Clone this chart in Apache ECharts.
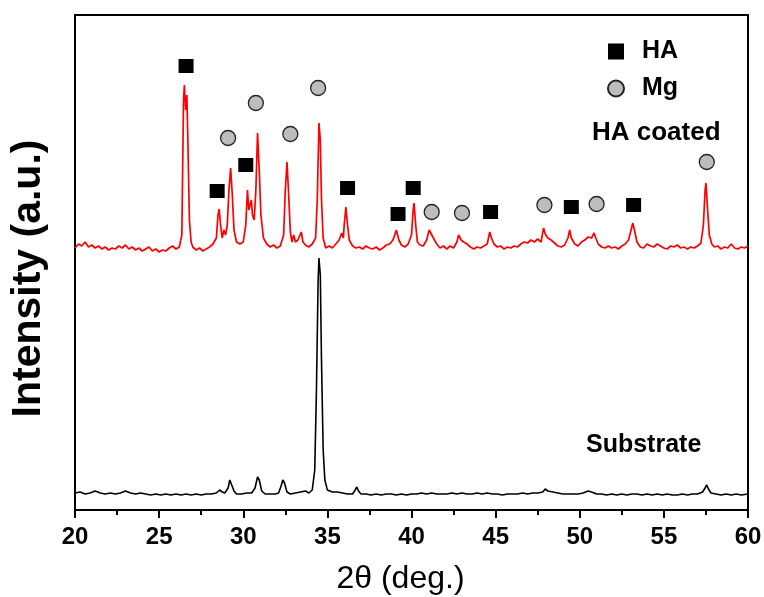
<!DOCTYPE html>
<html>
<head>
<meta charset="utf-8">
<script src="https://cdn.jsdelivr.net/npm/echarts@6/dist/echarts.min.js"></script>
<style>
html,body{margin:0;padding:0;background:#fff;}
#chart{width:764px;height:597px;}
</style>
</head>
<body>
<div id="chart"></div>
<script>
// 2θ (deg.) vs intensity (a.u., offset traces)
const coatedPattern = [
[20.0,262],[20.2,266],[20.4,264],[20.6,268],[20.8,263],[21.0,265],[21.2,262],[21.4,264],[21.6,261],[21.8,263],
[22.0,260],[22.2,262],[22.4,261],[22.6,264],[22.8,262],[23.0,265],[23.2,261],[23.4,263],[23.6,260],[23.8,262],
[24.0,259],[24.2,261],[24.4,263],[24.6,259],[24.8,261],[25.0,258],[25.2,260],[25.4,259],[25.6,262],[25.8,264],
[26.0,261],[26.2,263],[26.35,275],[26.45,410],[26.5,425],[26.58,400],[26.65,415],[26.72,360],[26.8,290],[26.9,268],
[27.0,263],[27.2,260],[27.4,262],[27.6,259],[27.8,261],[28.0,263],[28.2,266],[28.4,272],[28.5,295],[28.57,301],
[28.65,285],[28.75,272],[28.85,280],[28.95,275],[29.05,285],[29.15,320],[29.25,342],[29.35,315],[29.45,280],[29.6,268],
[29.8,266],[30.0,268],[30.15,285],[30.25,320],[30.33,300],[30.4,298],[30.48,310],[30.55,295],[30.65,290],[30.75,320],
[30.85,377],[30.95,340],[31.05,295],[31.2,272],[31.4,266],[31.6,263],[31.8,265],[32.0,262],[32.2,264],[32.4,275],
[32.5,320],[32.6,348],[32.7,315],[32.8,278],[32.9,268],[33.0,275],[33.1,268],[33.25,270],[33.45,278],[33.55,268],
[33.7,265],[33.9,263],[34.1,266],[34.3,272],[34.4,310],[34.5,387],[34.58,370],[34.65,310],[34.75,272],[34.9,262],
[35.1,264],[35.3,262],[35.5,266],[35.7,270],[35.85,277],[35.95,272],[36.0,285],[36.1,303],[36.2,285],[36.3,270],
[36.5,264],[36.7,262],[36.9,263],[37.1,261],[37.3,264],[37.5,262],[37.7,261],[37.9,263],[38.1,260],[38.3,262],
[38.5,265],[38.7,266],[38.9,270],[39.1,280],[39.25,270],[39.4,265],[39.6,263],[39.8,266],[40.0,275],[40.1,300],
[40.15,307],[40.25,285],[40.35,268],[40.5,265],[40.7,264],[40.9,270],[41.05,280],[41.15,282],[41.3,272],[41.5,266],
[41.7,262],[41.9,264],[42.1,261],[42.3,264],[42.5,262],[42.7,268],[42.8,275],[42.95,270],[43.1,268],[43.3,266],
[43.5,263],[43.7,261],[43.9,263],[44.1,262],[44.3,264],[44.5,266],[44.65,278],[44.75,272],[44.9,266],[45.1,263],
[45.3,264],[45.5,261],[45.7,263],[45.9,262],[46.1,264],[46.3,263],[46.5,266],[46.7,268],[46.9,267],[47.1,270],
[47.3,268],[47.5,271],[47.7,268],[47.85,282],[47.95,276],[48.1,272],[48.3,270],[48.5,267],[48.7,264],[48.9,263],
[49.1,265],[49.3,272],[49.4,280],[49.5,272],[49.7,266],[49.9,264],[50.1,268],[50.3,270],[50.5,273],[50.7,272],
[50.85,277],[50.95,272],[51.1,266],[51.3,263],[51.5,262],[51.7,264],[51.9,262],[52.1,263],[52.3,261],[52.5,264],
[52.7,266],[52.9,270],[53.05,280],[53.15,287],[53.25,280],[53.4,268],[53.6,263],[53.8,262],[54.0,266],[54.2,264],
[54.4,263],[54.6,266],[54.8,264],[55.0,262],[55.2,261],[55.4,264],[55.6,263],[55.8,265],[56.0,262],[56.2,263],
[56.4,261],[56.6,263],[56.8,262],[57.0,264],[57.2,267],[57.35,285],[57.45,320],[57.5,327],[57.6,300],[57.7,275],
[57.85,266],[58.0,263],[58.2,264],[58.4,261],[58.6,263],[58.8,262],[59.0,266],[59.2,262],[59.4,261],[59.6,263],
[59.8,262],[60.0,264]
];
const substratePattern = [
[20.0,17],[20.3,18],[20.6,16],[20.9,17],[21.2,19],[21.5,17],[21.8,16],[22.1,17],[22.4,16],[22.7,17],
[23.0,19],[23.3,17],[23.6,16],[23.9,17],[24.2,16],[24.5,15],[24.8,16],[25.1,15],[25.4,16],[25.7,15],
[26.0,16],[26.3,15],[26.6,16],[26.9,15],[27.2,16],[27.5,15],[27.8,16],[28.1,16],[28.4,17],[28.6,20],
[28.75,18],[28.9,17],[29.1,22],[29.2,30],[29.3,28],[29.45,19],[29.6,16],[29.9,16],[30.2,17],[30.5,17],
[30.7,22],[30.85,33],[30.95,30],[31.1,19],[31.3,16],[31.6,16],[31.9,16],[32.1,17],[32.25,24],[32.35,30],
[32.45,27],[32.6,18],[32.8,16],[33.1,17],[33.4,18],[33.7,19],[33.9,17],[34.1,20],[34.25,40],[34.35,120],
[34.45,230],[34.5,252],[34.58,235],[34.65,150],[34.75,60],[34.85,30],[35.0,20],[35.3,18],[35.6,18],[35.9,17],
[36.2,16],[36.5,16],[36.65,20],[36.75,23],[36.85,19],[37.0,16],[37.3,16],[37.6,15],[37.9,16],[38.2,15],
[38.5,16],[38.8,16],[39.1,15],[39.4,16],[39.7,15],[40.0,16],[40.3,16],[40.6,17],[40.9,16],[41.2,17],
[41.5,16],[41.8,16],[42.1,16],[42.4,17],[42.7,16],[43.0,17],[43.3,16],[43.6,16],[43.9,17],[44.2,16],
[44.5,17],[44.8,16],[45.1,16],[45.4,15],[45.7,16],[46.0,16],[46.3,16],[46.6,17],[46.9,16],[47.2,17],
[47.5,17],[47.8,18],[47.95,21],[48.1,19],[48.4,18],[48.7,17],[49.0,16],[49.3,16],[49.6,16],[49.9,16],
[50.2,17],[50.5,19],[50.7,18],[51.0,16],[51.3,16],[51.6,15],[51.9,16],[52.2,15],[52.5,16],[52.8,15],
[53.1,16],[53.4,16],[53.7,15],[54.0,16],[54.3,15],[54.6,16],[54.9,15],[55.2,16],[55.5,15],[55.8,15],
[56.1,16],[56.4,15],[56.7,16],[57.0,16],[57.3,18],[57.45,22],[57.55,25],[57.65,21],[57.8,17],[58.1,16],
[58.4,15],[58.7,16],[59.0,15],[59.3,16],[59.6,15],[60.0,16]
];
// Phase markers (2θ position, label height)
const haMarkers = [[26.6,444],[28.45,319],[30.15,345],[36.2,322],[39.2,296],[40.1,322],[44.7,298],[49.5,303],[53.2,305]];
const mgMarkers = [[29.1,372],[30.75,407],[32.8,376],[34.45,422],[41.2,298],[43.0,297],[47.9,305],[51.0,306],[57.55,348]];
const seriesNames = ['HA coated','Substrate'];
const phaseNames = ['HA','Mg'];
const xMin = 20, xMax = 60, xStep = 5;

const FONT = 'Liberation Sans, Arial, Helvetica, sans-serif';
const chart = echarts.init(document.getElementById('chart'), null, {renderer:'canvas'});
chart.setOption({
  animation:false,
  backgroundColor:'#fff',
  grid:{left:75,right:16,top:15,bottom:87,containLabel:false,outerBoundsMode:'none',
        show:true,borderColor:'#000',borderWidth:2,backgroundColor:'transparent'},
  legend:{
    orient:'vertical',left:602,top:34,itemWidth:16,itemHeight:16,itemGap:12,
    data:phaseNames,
    textStyle:{fontFamily:FONT,fontSize:25,fontWeight:'bold',color:'#000',padding:[0,0,0,13]}
  },
  xAxis:{
    type:'value',min:xMin,max:xMax,interval:xStep,
    name:'2θ (deg.)',nameLocation:'middle',nameGap:53,
    nameTextStyle:{fontFamily:FONT,fontSize:32,color:'#000',padding:[0,22,0,0]},
    axisLine:{lineStyle:{color:'#000',width:2}},
    axisTick:{show:true,length:8,lineStyle:{color:'#000',width:2}},
    minorTick:{show:true,splitNumber:2,length:5,lineStyle:{color:'#000',width:2}},
    axisLabel:{fontFamily:FONT,fontSize:24,fontWeight:'bold',color:'#000',margin:15},
    splitLine:{show:false}
  },
  yAxis:{
    type:'value',min:0,max:495,
    name:'Intensity (a.u.)',nameLocation:'middle',nameGap:26,
    nameTextStyle:{fontFamily:FONT,fontSize:41,fontWeight:'bold',color:'#000',padding:[0,32,0,0]},
    axisLine:{show:true,lineStyle:{color:'#000',width:2}},
    axisTick:{show:false},axisLabel:{show:false},splitLine:{show:false}
  },
  series:[
    {name:seriesNames[0],type:'line',data:coatedPattern,showSymbol:false,symbol:'none',
     lineStyle:{color:'#ff0000',width:1.7},itemStyle:{color:'#ff0000'},z:2},
    {name:seriesNames[1],type:'line',data:substratePattern,showSymbol:false,symbol:'none',
     lineStyle:{color:'#000',width:1.6},itemStyle:{color:'#000'},z:2},
    {name:phaseNames[0],type:'scatter',data:haMarkers,symbol:'rect',symbolSize:[15,14],
     itemStyle:{color:'#000',opacity:1},z:3},
    {name:phaseNames[1],type:'scatter',data:mgMarkers,symbol:'circle',symbolSize:15,
     itemStyle:{color:'#bdbdbd',borderColor:'#222',borderWidth:1.3,opacity:1},z:3}
  ],
  graphic:[
    {type:'text',left:592,top:120,style:{text:seriesNames[0],font:'bold 26px '+FONT,fill:'#000'}},
    {type:'text',left:586,top:433,style:{text:seriesNames[1],font:'bold 25px '+FONT,fill:'#000'}}
  ]
});
</script>
</body>
</html>
